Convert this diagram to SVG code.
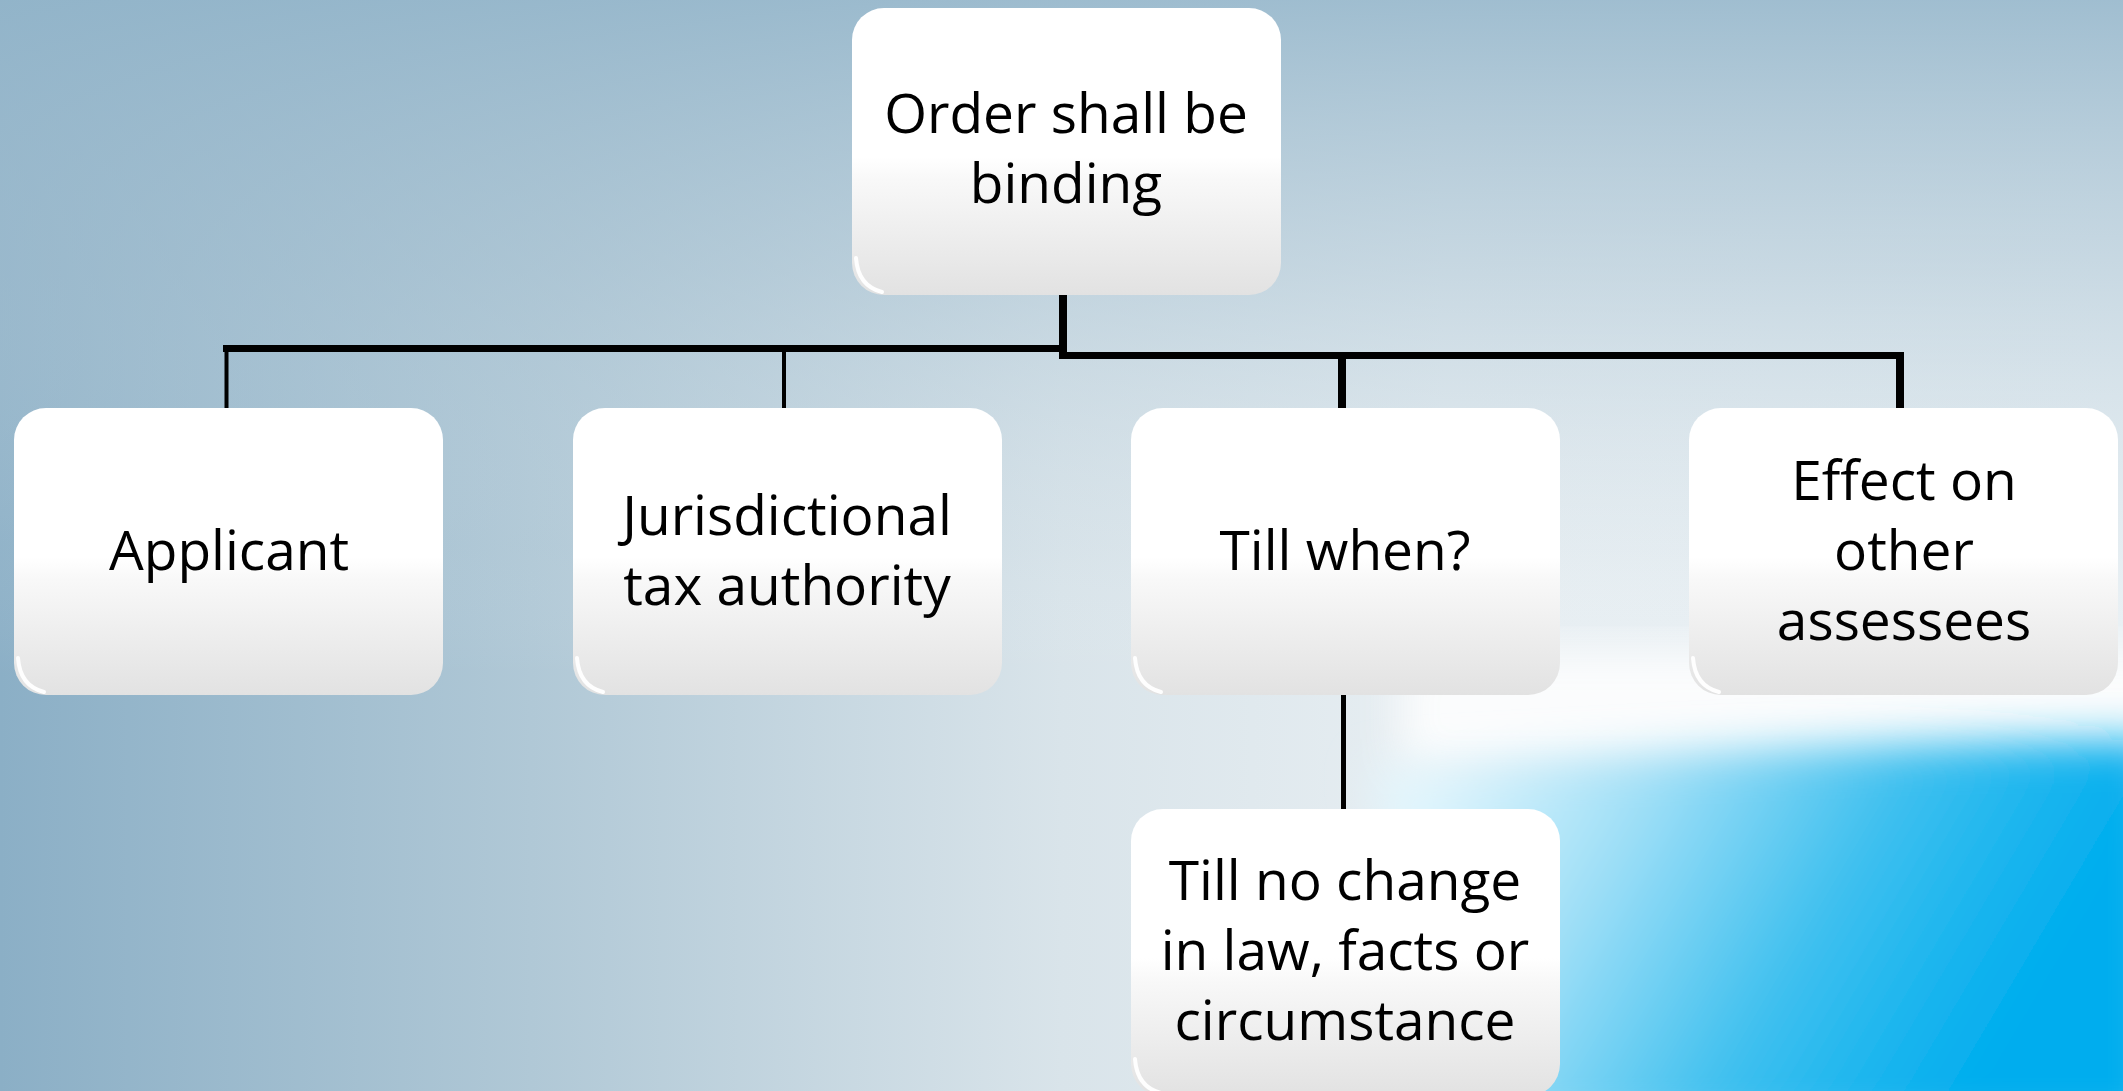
<svg xmlns="http://www.w3.org/2000/svg" width="2123" height="1091" viewBox="0 0 2123 1091">
  <defs>
    <!-- slide background: steel blue on the left fading to pale grey-blue -->
    <linearGradient id="bgH" x1="0" y1="0" x2="1" y2="0">
      <stop offset="0" stop-color="#8bafc6"/>
      <stop offset="0.25" stop-color="#b0c8d6"/>
      <stop offset="0.5" stop-color="#d9e4ea"/>
      <stop offset="0.68" stop-color="#e7eef2"/>
      <stop offset="1" stop-color="#e9f0f4"/>
    </linearGradient>
    <linearGradient id="bgV" x1="0" y1="0" x2="0" y2="1">
      <stop offset="0" stop-color="#93b5ca" stop-opacity="0.85"/>
      <stop offset="0.25" stop-color="#a8c2d2" stop-opacity="0.5"/>
      <stop offset="0.5" stop-color="#c5d6e0" stop-opacity="0.12"/>
      <stop offset="0.62" stop-color="#ffffff" stop-opacity="0"/>
    </linearGradient>
    <linearGradient id="cyan" gradientUnits="userSpaceOnUse" x1="1440" y1="760" x2="1980" y2="1080">
      <stop offset="0" stop-color="#e3f6fd"/>
      <stop offset="0.3" stop-color="#a2e0f7"/>
      <stop offset="0.65" stop-color="#3fc0ef"/>
      <stop offset="1" stop-color="#00adee"/>
    </linearGradient>
    <filter id="soft" x="-20%" y="-20%" width="140%" height="140%">
      <feGaussianBlur stdDeviation="22"/>
    </filter>
    <!-- glossy node fill -->
    <linearGradient id="nodeFill" x1="0" y1="0" x2="0" y2="1">
      <stop offset="0" stop-color="#ffffff"/>
      <stop offset="0.52" stop-color="#ffffff"/>
      <stop offset="0.6" stop-color="#f8f8f8"/>
      <stop offset="1" stop-color="#e2e2e2"/>
    </linearGradient>
  </defs>
  <style>
    .box { fill: url(#nodeFill); }
    .gloss { fill: none; stroke: #ffffff; stroke-width: 4; stroke-linecap: round; opacity: 0.95; }
    .label { font-family: "Open Sans", "Liberation Sans", sans-serif; font-size: 55px; fill: #000000; text-anchor: middle; }
    .wire { stroke: #000000; fill: none; stroke-linecap: butt; }
  </style>

  <!-- background -->
  <rect x="0" y="0" width="2123" height="1091" fill="url(#bgH)"/>
  <rect x="0" y="0" width="2123" height="1091" fill="url(#bgV)"/>
  <rect x="1400" y="650" width="800" height="120" fill="#ffffff" opacity="0.85" filter="url(#soft)"/>
  <path d="M1370,770 C1700,750 1950,740 2160,740 L2160,1130 L1440,1130 C1410,980 1395,860 1370,770 Z" fill="url(#cyan)" filter="url(#soft)"/>

  <!-- connectors -->
  <g id="connectors">
    <line class="wire" x1="1063" y1="294" x2="1063" y2="359" stroke-width="8"/>
    <line class="wire" x1="223" y1="348.5" x2="1064" y2="348.5" stroke-width="7"/>
    <line class="wire" x1="1062" y1="355.5" x2="1904" y2="355.5" stroke-width="7"/>
    <line class="wire" x1="226.5" y1="345" x2="226.5" y2="408" stroke-width="4"/>
    <line class="wire" x1="784" y1="351" x2="784" y2="408" stroke-width="4"/>
    <line class="wire" x1="1342" y1="352" x2="1342" y2="408" stroke-width="8"/>
    <line class="wire" x1="1900" y1="352" x2="1900" y2="408" stroke-width="8"/>
    <line class="wire" x1="1343.5" y1="695" x2="1343.5" y2="809" stroke-width="5"/>
  </g>

  <!-- root -->
  <g id="node-order">
    <rect class="box" x="852" y="8" width="429" height="287" rx="32"/>
    <path class="gloss" d="M856,258 Q858,286 882,292"/>
    <text class="label" x="1066" y="133">Order shall be</text>
    <text class="label" x="1066" y="203">binding</text>
  </g>

  <g id="node-applicant">
    <rect class="box" x="14" y="408" width="429" height="287" rx="32"/>
    <path class="gloss" d="M18,658 Q20,686 44,692"/>
    <text class="label" x="229" y="570">Applicant</text>
  </g>

  <g id="node-authority">
    <rect class="box" x="573" y="408" width="429" height="287" rx="32"/>
    <path class="gloss" d="M577,658 Q579,686 603,692"/>
    <text class="label" x="787" y="535">Jurisdictional</text>
    <text class="label" x="787" y="605">tax authority</text>
  </g>

  <g id="node-till-when">
    <rect class="box" x="1131" y="408" width="429" height="287" rx="32"/>
    <path class="gloss" d="M1135,658 Q1137,686 1161,692"/>
    <text class="label" x="1345" y="570">Till when?</text>
  </g>

  <g id="node-effect">
    <rect class="box" x="1689" y="408" width="429" height="287" rx="32"/>
    <path class="gloss" d="M1693,658 Q1695,686 1719,692"/>
    <text class="label" x="1904" y="500">Effect on</text>
    <text class="label" x="1904" y="570">other</text>
    <text class="label" x="1904" y="640">assessees</text>
  </g>

  <g id="node-till-no-change">
    <rect class="box" x="1131" y="809" width="429" height="287" rx="32"/>
    <path class="gloss" d="M1135,1059 Q1137,1087 1161,1093"/>
    <text class="label" x="1345" y="900">Till no change</text>
    <text class="label" x="1345" y="970">in law, facts or</text>
    <text class="label" x="1345" y="1040">circumstance</text>
  </g>
</svg>
